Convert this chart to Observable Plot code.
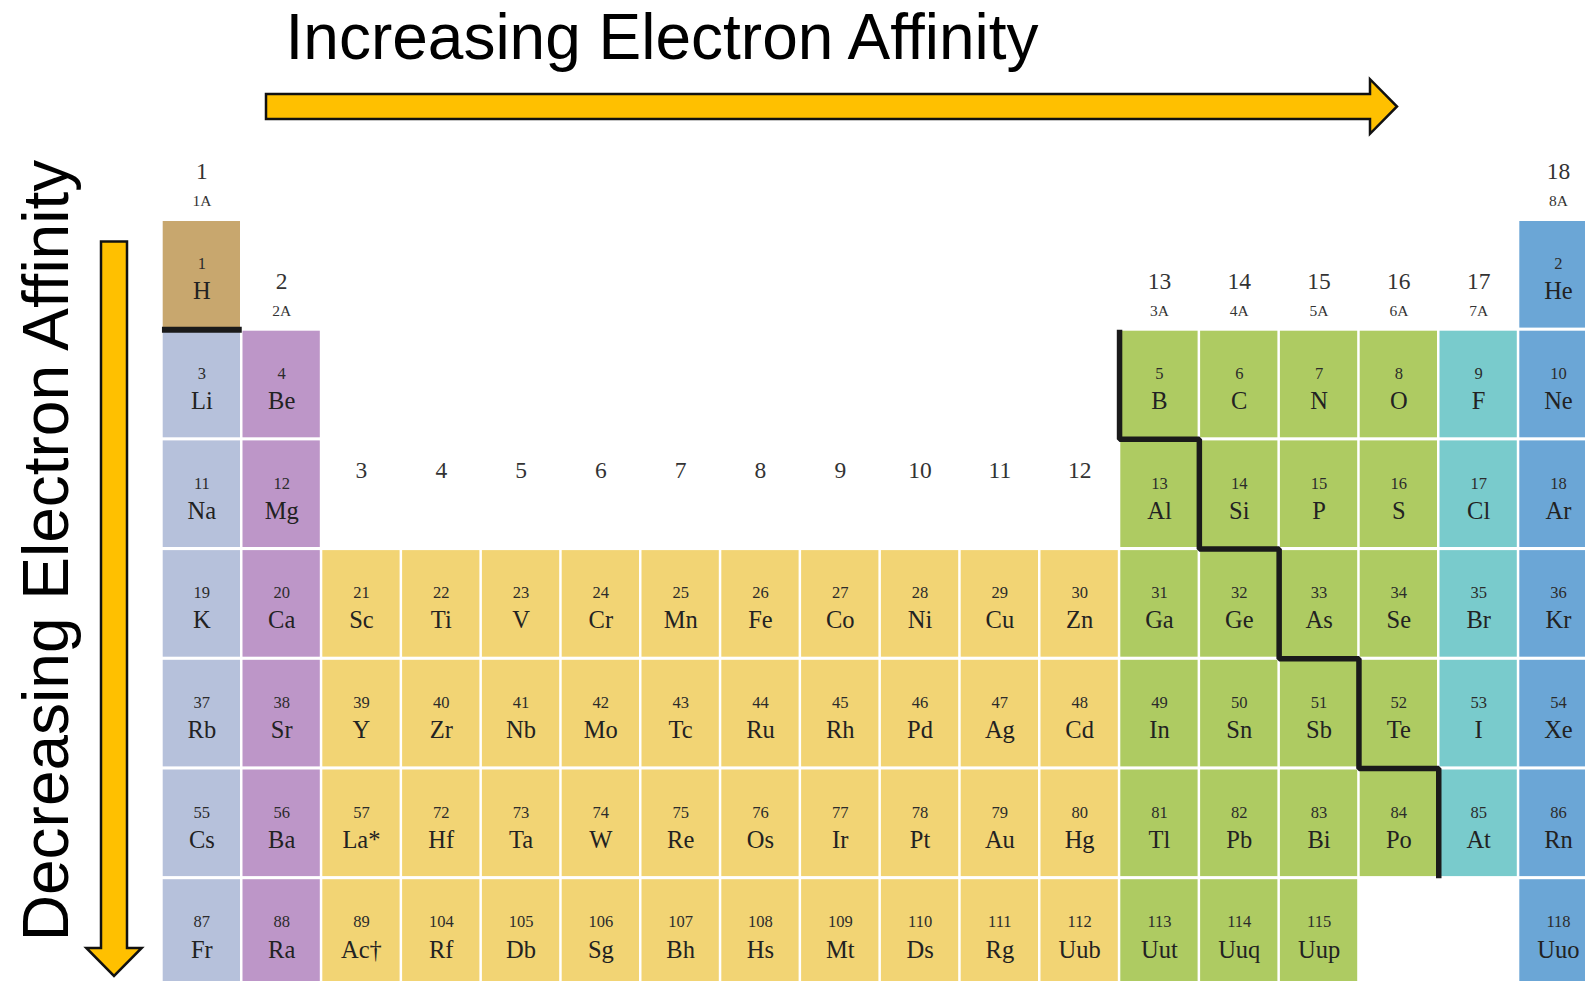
<!DOCTYPE html>
<html>
<head>
<meta charset="utf-8">
<script src="https://cdn.jsdelivr.net/npm/d3@7"></script>
<script src="https://cdn.jsdelivr.net/npm/@observablehq/plot@0.6"></script>
<style>
  html, body { margin: 0; padding: 0; background: #ffffff; }
  #chart svg { display: block; }
</style>
</head>
<body>
<div id="chart"></div>
<script>
// ---------------- data ----------------
const titleTop = "Increasing Electron Affinity";
const titleSide = "Decreasing Electron Affinity";

const symbols = [
  "H", "He",
  "Li", "Be", "B", "C", "N", "O", "F", "Ne",
  "Na", "Mg", "Al", "Si", "P", "S", "Cl", "Ar",
  "K", "Ca", "Sc", "Ti", "V", "Cr", "Mn", "Fe", "Co", "Ni", "Cu", "Zn", "Ga", "Ge", "As", "Se", "Br", "Kr",
  "Rb", "Sr", "Y", "Zr", "Nb", "Mo", "Tc", "Ru", "Rh", "Pd", "Ag", "Cd", "In", "Sn", "Sb", "Te", "I", "Xe",
  "Cs", "Ba", "La*", "Hf", "Ta", "W", "Re", "Os", "Ir", "Pt", "Au", "Hg", "Tl", "Pb", "Bi", "Po", "At", "Rn",
  "Fr", "Ra", "Ac\u2020", "Rf", "Db", "Sg", "Bh", "Hs", "Mt", "Ds", "Rg", "Uub", "Uut", "Uuq", "Uup", "Uuo"
];
const numbers = [
  1, 2,
  3, 4, 5, 6, 7, 8, 9, 10,
  11, 12, 13, 14, 15, 16, 17, 18,
  19, 20, 21, 22, 23, 24, 25, 26, 27, 28, 29, 30, 31, 32, 33, 34, 35, 36,
  37, 38, 39, 40, 41, 42, 43, 44, 45, 46, 47, 48, 49, 50, 51, 52, 53, 54,
  55, 56, 57, 72, 73, 74, 75, 76, 77, 78, 79, 80, 81, 82, 83, 84, 85, 86,
  87, 88, 89, 104, 105, 106, 107, 108, 109, 110, 111, 112, 113, 114, 115, 118
];
const groups = [
  1, 18,
  1, 2, 13, 14, 15, 16, 17, 18,
  1, 2, 13, 14, 15, 16, 17, 18,
  1, 2, 3, 4, 5, 6, 7, 8, 9, 10, 11, 12, 13, 14, 15, 16, 17, 18,
  1, 2, 3, 4, 5, 6, 7, 8, 9, 10, 11, 12, 13, 14, 15, 16, 17, 18,
  1, 2, 3, 4, 5, 6, 7, 8, 9, 10, 11, 12, 13, 14, 15, 16, 17, 18,
  1, 2, 3, 4, 5, 6, 7, 8, 9, 10, 11, 12, 13, 14, 15, 18
];
const periods = [
  1, 1,
  2, 2, 2, 2, 2, 2, 2, 2,
  3, 3, 3, 3, 3, 3, 3, 3,
  4, 4, 4, 4, 4, 4, 4, 4, 4, 4, 4, 4, 4, 4, 4, 4, 4, 4,
  5, 5, 5, 5, 5, 5, 5, 5, 5, 5, 5, 5, 5, 5, 5, 5, 5, 5,
  6, 6, 6, 6, 6, 6, 6, 6, 6, 6, 6, 6, 6, 6, 6, 6, 6, 6,
  7, 7, 7, 7, 7, 7, 7, 7, 7, 7, 7, 7, 7, 7, 7, 7
];
// h = hydrogen, a = alkali, e = alkaline earth, t = transition, m = main group, x = halogen, n = noble gas
const categories = [
  "h", "n",
  "a", "e", "m", "m", "m", "m", "x", "n",
  "a", "e", "m", "m", "m", "m", "x", "n",
  "a", "e", "t", "t", "t", "t", "t", "t", "t", "t", "t", "t", "m", "m", "m", "m", "x", "n",
  "a", "e", "t", "t", "t", "t", "t", "t", "t", "t", "t", "t", "m", "m", "m", "m", "x", "n",
  "a", "e", "t", "t", "t", "t", "t", "t", "t", "t", "t", "t", "m", "m", "m", "m", "x", "n",
  "a", "e", "t", "t", "t", "t", "t", "t", "t", "t", "t", "t", "m", "m", "m", "n"
];
const categoryNames = ["h", "a", "e", "t", "m", "x", "n"];
const categoryColors = ["#c8a76e", "#b6c1db", "#bd96c8", "#f2d474", "#aecb62", "#79cbcc", "#6ba6d6"];

const groupLabels = ["1", "2", "3", "4", "5", "6", "7", "8", "9", "10", "11", "12", "13", "14", "15", "16", "17", "18"];
const groupSubLabels = ["1A", "2A", "", "", "", "", "", "", "", "", "", "", "3A", "4A", "5A", "6A", "7A", "8A"];

// metal / non-metal separator, as (group boundary, period boundary) steps
const separatorSteps = [[13, 2], [13, 3], [14, 3], [14, 4], [15, 4], [15, 5], [16, 5], [16, 6], [17, 6], [17, 7]];
const hydrogenSeparator = [[1, 2], [2, 2]];

// ---------------- layout ----------------
const W = 1585, H = 981;
const colPitch = 79.8, rowPitch = 109.7;
const firstColLeft = 162.7, firstRowTop = 221;
const cellW = 77.3 / colPitch, cellH = 106.6 / rowPitch;
const gapX = (colPitch - 77.3) / 2 / colPitch;
const gapY = (rowPitch - 106.6) / 2 / rowPitch;

const elements = symbols.map((s, i) => ({
  symbol: s, number: numbers[i], group: groups[i], period: periods[i], category: categories[i]
}));
const firstRow = d3.rollup(elements, v => d3.min(v, d => d.period), d => d.group);
const labels = groupLabels.map((l, i) => ({label: l, sub: groupSubLabels[i], group: i + 1, row: firstRow.get(i + 1)}));

const serif = "'Liberation Serif', 'Times New Roman', serif";
const sans = "'Liberation Sans', Arial, sans-serif";

function blockArrows() {
  const g = d3.create("svg:g");
  const style = p => p.attr("fill", "#ffc000").attr("stroke", "#111").attr("stroke-width", 2.5).attr("stroke-linejoin", "miter");
  // horizontal arrow
  const hx0 = 266, hx1 = 1370, htip = 1397, hy = 106.5, hb = 12.5, hh = 27.3;
  g.append("path").attr("d",
    `M${hx0},${hy - hb}L${hx1},${hy - hb}L${hx1},${hy - hh}L${htip},${hy}L${hx1},${hy + hh}L${hx1},${hy + hb}L${hx0},${hy + hb}Z`
  ).call(style);
  // vertical arrow
  const vy0 = 241.5, vy1 = 948, vtip = 976, vx = 114, vb = 13, vh = 27.7;
  g.append("path").attr("d",
    `M${vx - vb},${vy0}L${vx - vb},${vy1}L${vx - vh},${vy1}L${vx},${vtip}L${vx + vh},${vy1}L${vx + vb},${vy1}L${vx + vb},${vy0}Z`
  ).call(style);
  return g.node();
}

const chart = Plot.plot({
  width: W,
  height: H,
  margin: 0,
  style: {background: "#ffffff", fontFamily: serif},
  x: {domain: [1 - firstColLeft / colPitch, 1 + (W - firstColLeft) / colPitch], range: [0, W], axis: null},
  y: {domain: [1 - firstRowTop / rowPitch, 1 + (H - firstRowTop) / rowPitch], range: [0, H], axis: null},
  color: {type: "ordinal", domain: categoryNames, range: categoryColors},
  marks: [
    Plot.rect(elements, {
      x1: d => d.group, x2: d => d.group + cellW,
      y1: d => d.period, y2: d => d.period + cellH,
      fill: "category"
    }),
    Plot.text(elements, {
      x: d => d.group + cellW / 2, y: d => d.period + 0.387,
      text: d => String(d.number), fontSize: 16.5, fill: "#2b2b2b", fontFamily: serif
    }),
    Plot.text(elements, {
      x: d => d.group + cellW / 2, y: d => d.period + 0.638,
      text: "symbol", fontSize: 24.5, fill: "#222", fontFamily: serif
    }),
    Plot.text(labels, {
      x: d => d.group + cellW / 2, y: d => d.sub ? d.row - 0.453 : d.row - 0.73,
      text: "label", fontSize: 23.5, fill: "#333", fontFamily: serif
    }),
    Plot.text(labels.filter(d => d.sub), {
      x: d => d.group + cellW / 2, y: d => d.row - 0.187,
      text: "sub", fontSize: 15.5, fill: "#333", fontFamily: serif
    }),
    Plot.line(separatorSteps, {
      x: d => d[0] - gapX, y: d => d[1] - gapY,
      stroke: "#1a1a1a", strokeWidth: 5.5, strokeLinejoin: "miter", strokeLinecap: "butt"
    }),
    Plot.line(hydrogenSeparator, {
      x: d => d[0] - gapX, y: d => d[1] - gapY,
      stroke: "#1a1a1a", strokeWidth: 6, strokeLinecap: "butt"
    }),
    blockArrows,
    Plot.text([titleTop], {
      frameAnchor: "top-left", dx: 285, dy: 58, textAnchor: "start", lineAnchor: "bottom",
      fontSize: 64, fill: "#000", fontFamily: sans
    }),
    Plot.text([titleSide], {
      frameAnchor: "left", dx: 67, dy: 59.5, rotate: -90, textAnchor: "middle", lineAnchor: "bottom",
      fontSize: 64, fill: "#000", fontFamily: sans
    })
  ]
});

document.getElementById("chart").append(chart);
</script>
</body>
</html>
